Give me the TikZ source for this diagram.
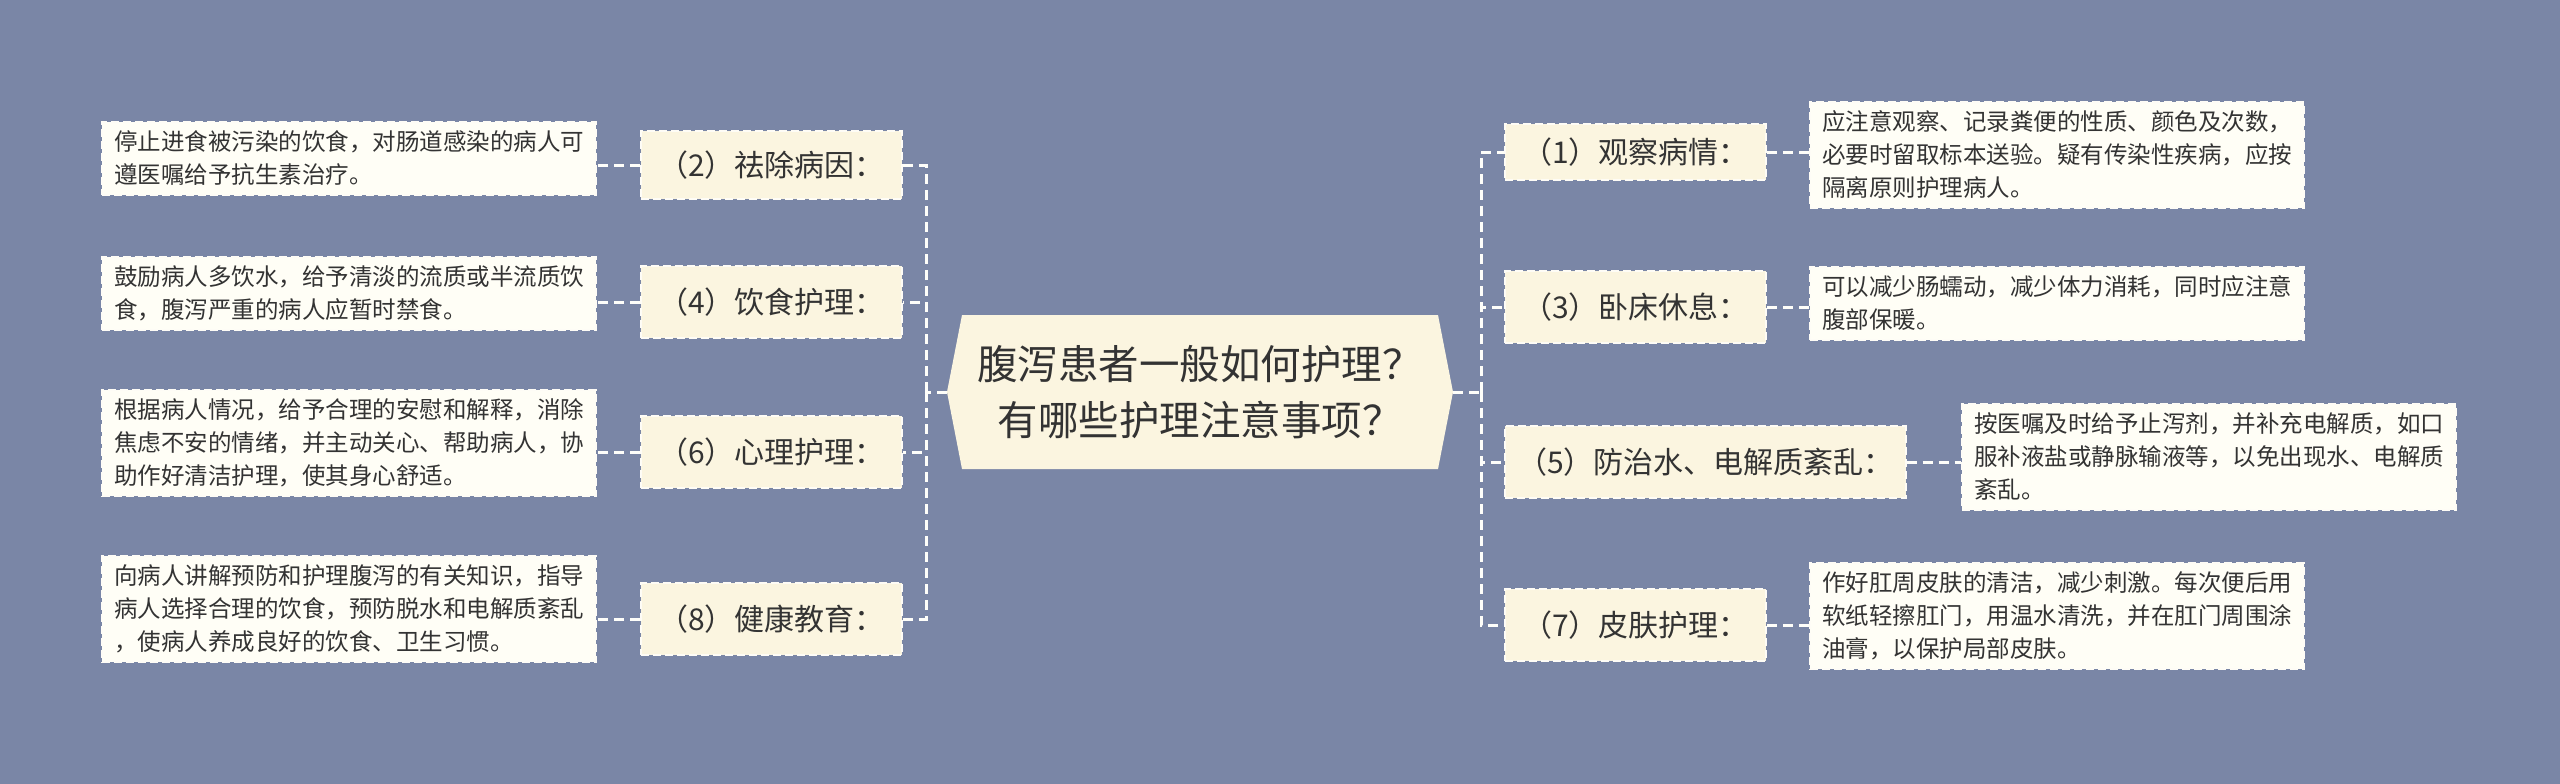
\documentclass[tikz,border=0pt]{standalone}
\usepackage{fontspec}
\setmainfont{Noto Sans CJK SC}
\usetikzlibrary{shapes.misc}
\definecolor{bg}{HTML}{7A86A6}
\definecolor{lab}{HTML}{FBF5E0}
\definecolor{leaf}{HTML}{FFFEF6}
\definecolor{txt}{HTML}{333333}
\tikzset{
 labbox/.style={draw=white!70!lab,dash pattern=on 8pt off 4pt,line width=2pt,fill=lab,text=txt,font=\fontsize{30}{36}\selectfont,anchor=west,inner xsep=12pt,minimum height=#1,minimum width=261pt},
 leafbox/.style={draw=white!70!lab,dash pattern=on 8pt off 4pt,line width=2pt,fill=leaf,text=txt,font=\fontsize{23.5}{33}\selectfont,align=left,anchor=north west,inner xsep=12pt,inner ysep=9pt},
 con/.style={draw=white!85!lab,dash pattern=on 10pt off 6pt,line width=3pt}
}
\begin{document}
\begin{tikzpicture}[x=1pt,y=-1pt]
\fill[bg] (0,0) rectangle (2560,784);
\useasboundingbox (0,0) rectangle (2560,784);
% center
\fill[lab] (947,392) -- (962,315) -- (1438,315) -- (1453,392) -- (1438,469) -- (962,469) -- cycle;
\node[text=txt,font=\fontsize{40.5}{56}\selectfont,align=center] (c) at (1200,392) {腹泻患者一般如何护理？\\有哪些护理注意事项？};
\coordinate (cl) at (947,392); \coordinate (cr) at (1453,392);
% right labels
\node[labbox=56pt] (l1) at (1504,152) {（1）观察病情：};
\node[labbox=72pt] (l3) at (1504,307) {（3）卧床休息：};
\node[labbox=72pt] (l5) at (1504,462) {（5）防治水、电解质紊乱：};
\node[labbox=72pt] (l7) at (1504,625) {（7）皮肤护理：};
% left labels
\node[labbox=68pt,anchor=east] (l2) at (903,165) {（2）祛除病因：};
\node[labbox=72pt,anchor=east] (l4) at (903,302) {（4）饮食护理：};
\node[labbox=72pt,anchor=east] (l6) at (903,452) {（6）心理护理：};
\node[labbox=72pt,anchor=east] (l8) at (903,619) {（8）健康教育：};
% right leaves
\node[leafbox] (r1) at (1809,101) {应注意观察、记录粪便的性质、颜色及次数，\\必要时留取标本送验。疑有传染性疾病，应按\\隔离原则护理病人。};
\node[leafbox] (r3) at (1809,266) {可以减少肠蠕动，减少体力消耗，同时应注意\\腹部保暖。};
\node[leafbox] (r5) at (1961,403) {按医嘱及时给予止泻剂，并补充电解质，如口\\服补液盐或静脉输液等，以免出现水、电解质\\紊乱。};
\node[leafbox] (r7) at (1809,562) {作好肛周皮肤的清洁，减少刺激。每次便后用\\软纸轻擦肛门，用温水清洗，并在肛门周围涂\\油膏，以保护局部皮肤。};
% left leaves
\node[leafbox] (f2) at (101,121) {停止进食被污染的饮食，对肠道感染的病人可\\遵医嘱给予抗生素治疗。};
\node[leafbox] (f4) at (101,256) {鼓励病人多饮水，给予清淡的流质或半流质饮\\食，腹泻严重的病人应暂时禁食。};
\node[leafbox] (f6) at (101,389) {根据病人情况，给予合理的安慰和解释，消除\\焦虑不安的情绪，并主动关心、帮助病人，协\\助作好清洁护理，使其身心舒适。};
\node[leafbox] (f8) at (101,555) {向病人讲解预防和护理腹泻的有关知识，指导\\病人选择合理的饮食，预防脱水和电解质紊乱\\，使病人养成良好的饮食、卫生习惯。};
% connectors
\coordinate (vl) at (926,392); \coordinate (vr) at (1481,392);
\draw[con] (cl) -- (vl);
\draw[con] (cr) -- (vr);
\foreach \n in {l2,l4,l6,l8} \draw[con] (vl) |- (\n.east);
\foreach \n in {l1,l3,l5,l7} \draw[con] (vr) |- (\n.west);
\draw[con] (l1.east) -- (r1.west|-l1.east);
\draw[con] (l3.east) -- (r3.west|-l3.east);
\draw[con] (l5.east) -- (r5.west|-l5.east);
\draw[con] (l7.east) -- (r7.west|-l7.east);
\draw[con] (l2.west) -- (f2.east|-l2.west);
\draw[con] (l4.west) -- (f4.east|-l4.west);
\draw[con] (l6.west) -- (f6.east|-l6.west);
\draw[con] (l8.west) -- (f8.east|-l8.west);
\end{tikzpicture}
\end{document}
